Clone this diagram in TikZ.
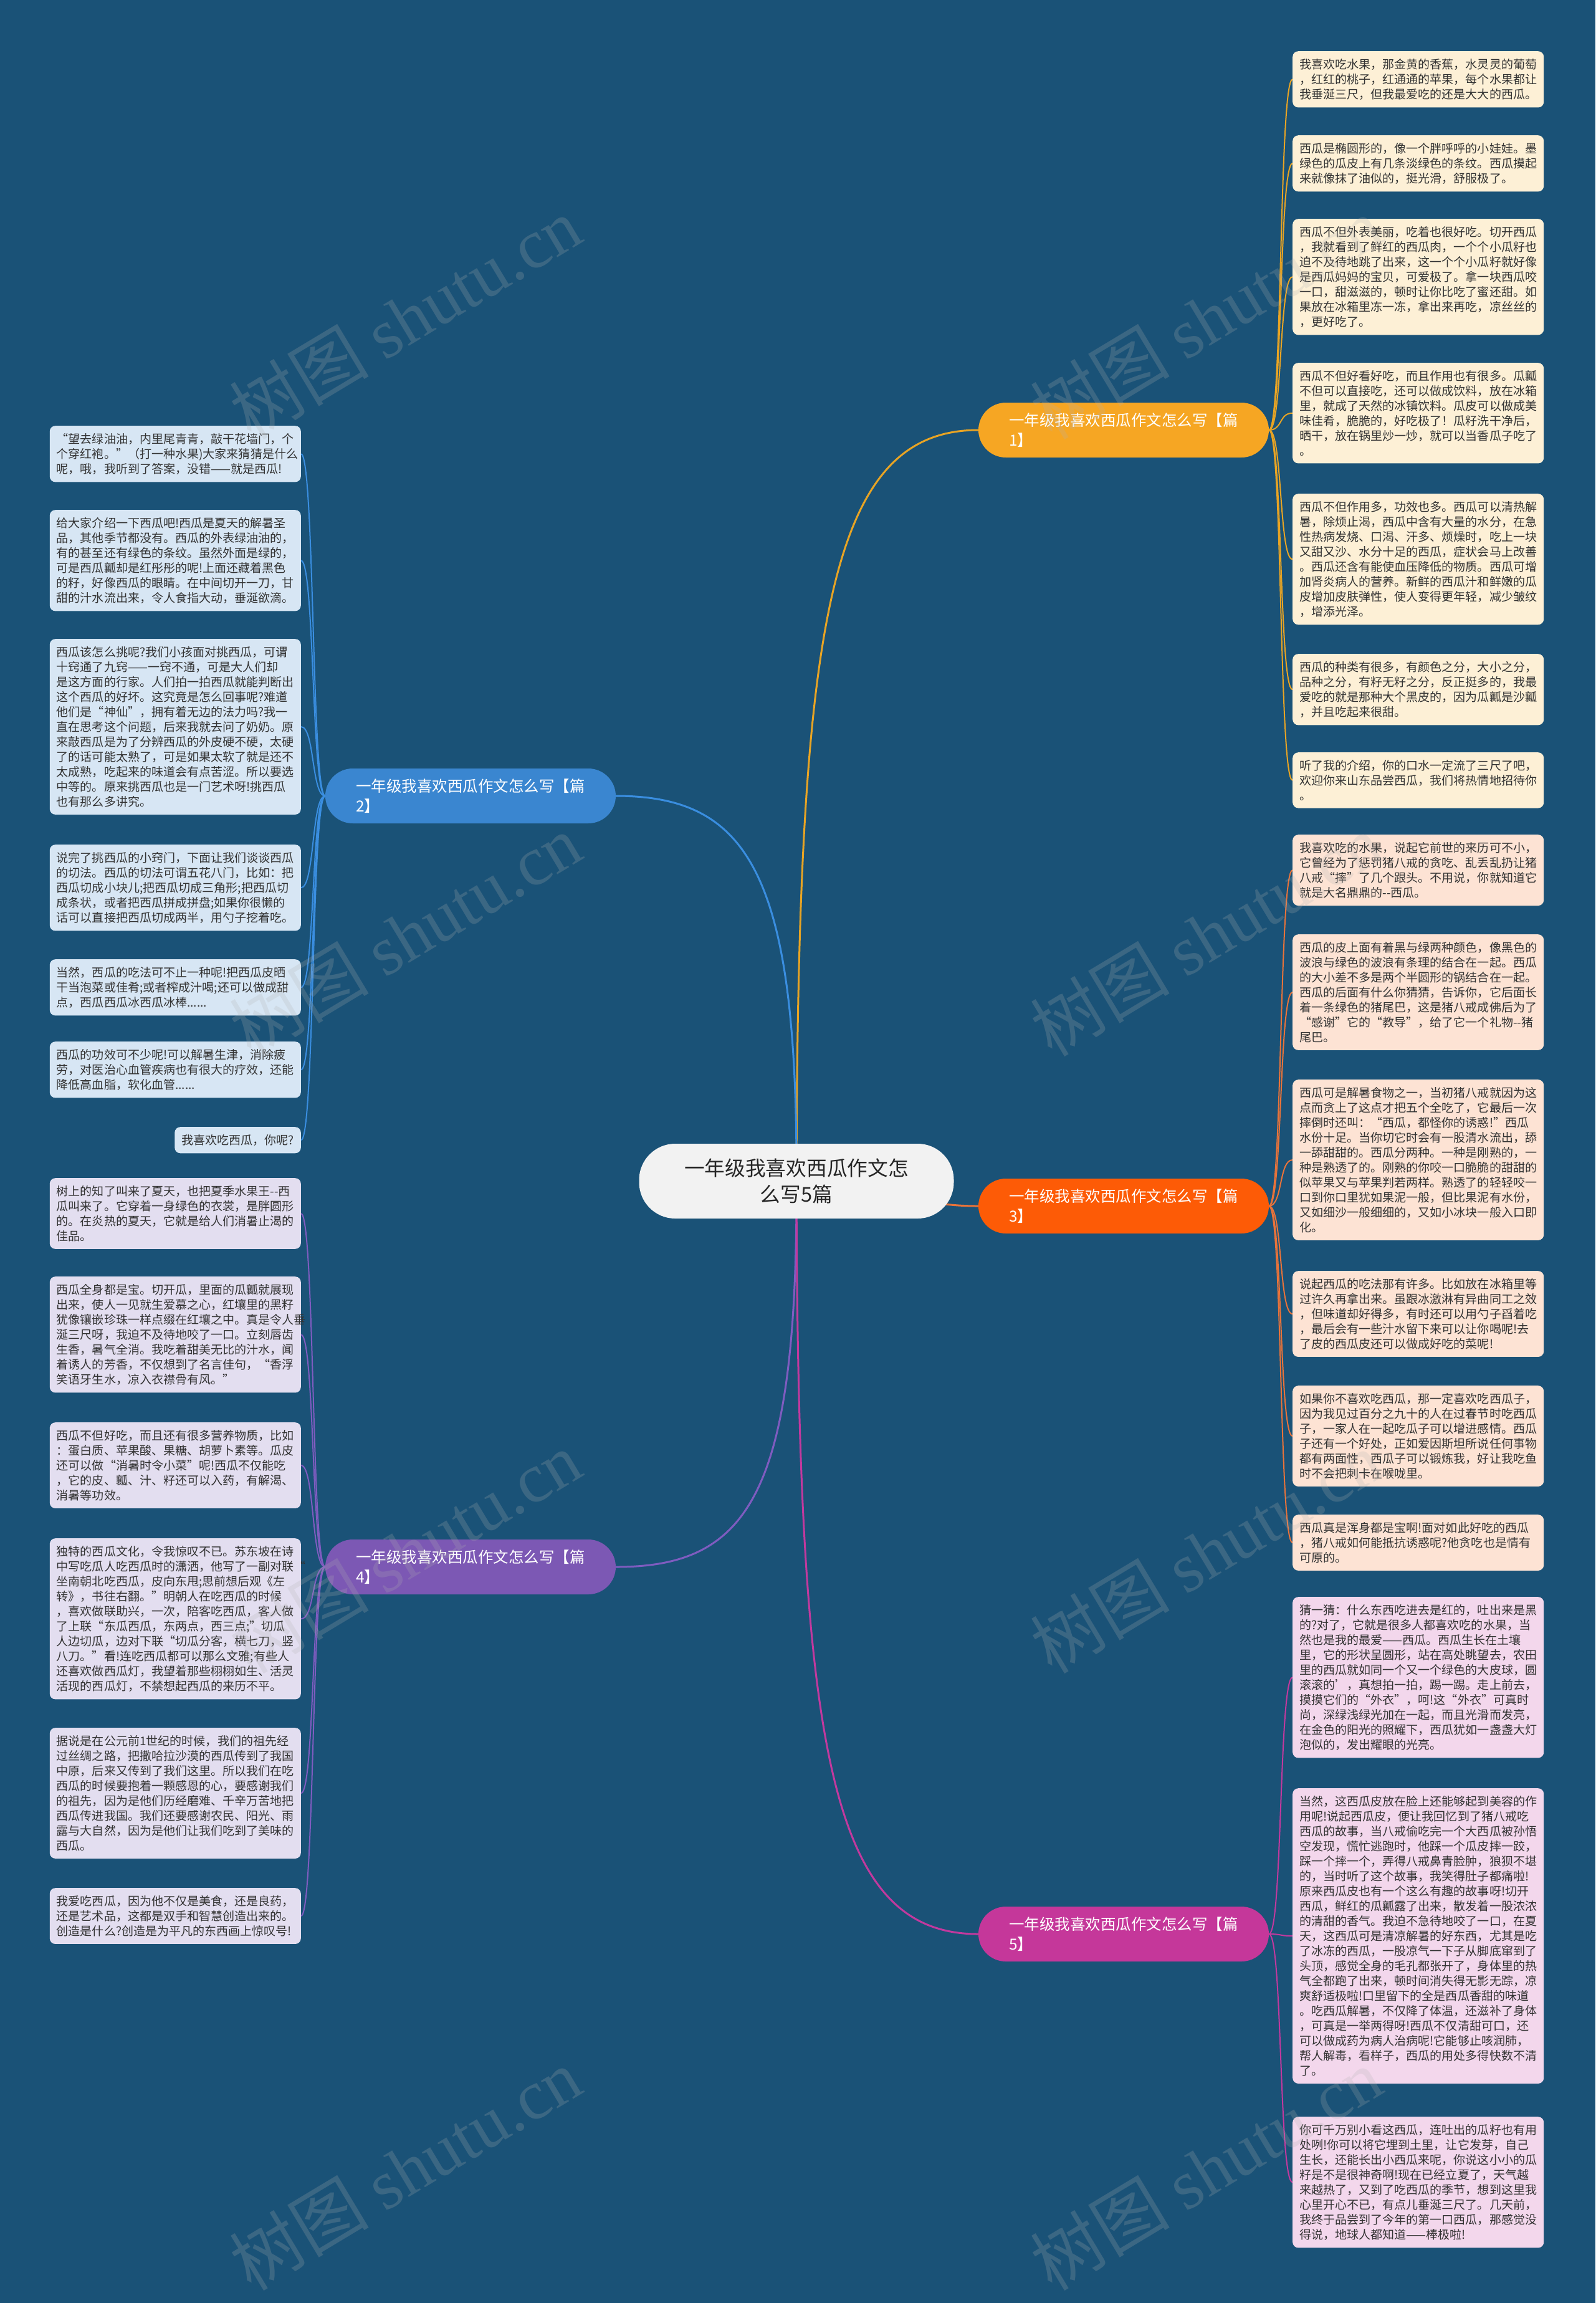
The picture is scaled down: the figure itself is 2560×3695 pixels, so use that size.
\documentclass[tikz,border=0pt]{standalone}
\usepackage{fontspec}
\setmainfont{Noto Sans CJK SC}
\newfontfamily\wmserif{Liberation Serif}
\usetikzlibrary{calc}
\definecolor{bgblue}{HTML}{1A5277}
\definecolor{leaftext}{HTML}{333333}
\definecolor{bAfill}{HTML}{F6A623}\definecolor{bAline}{HTML}{E8A424}\definecolor{bAleaf}{HTML}{FDF0D6}
\definecolor{bBfill}{HTML}{3A86D0}\definecolor{bBline}{HTML}{3A8EE0}\definecolor{bBleaf}{HTML}{D7E6F4}
\definecolor{bCfill}{HTML}{FD5B06}\definecolor{bCline}{HTML}{E8733A}\definecolor{bCleaf}{HTML}{FDE3D4}
\definecolor{bDfill}{HTML}{7C58B4}\definecolor{bDline}{HTML}{7F5CC0}\definecolor{bDleaf}{HTML}{E3DEF0}
\definecolor{bEfill}{HTML}{C5379A}\definecolor{bEline}{HTML}{C2399E}\definecolor{bEleaf}{HTML}{F3D7EC}
\definecolor{centerfill}{HTML}{F2F2F2}
\pgfdeclarelayer{bglayer}\pgfdeclarelayer{background}\pgfdeclarelayer{foreground}
\pgfsetlayers{bglayer,background,main,foreground}
\tikzset{
  leafbase/.style={rounded corners=9pt, inner xsep=11pt, inner ysep=12pt, text=leaftext,
    font=\fontsize{19.05}{24}\selectfont},
  leaf/.style={leafbase, text width=381pt, align=left},
  rleaf/.style={leaf, anchor=north west},
  lleaf/.style={leaf, anchor=north east},
  branchbox/.style={rounded corners=44pt, minimum width=466pt, minimum height=88pt, inner sep=0pt,
    text width=368pt, align=left, text=white, font=\fontsize{24.5}{32}\selectfont},
  centerbox/.style={rounded corners=58pt, minimum width=505pt, minimum height=120pt, fill=centerfill,
    align=center, text=black!85, font=\fontsize{32.7}{42}\selectfont},
  mainlink/.style={line width=3pt},
  leaflink/.style={line width=2pt},
  watermark/.style={rotate=31, opacity=0.22, text=gray!60, font=\fontsize{112}{112}\selectfont}
}
\begin{document}
\begin{tikzpicture}[x=1pt,y=-1pt]
\begin{pgfonlayer}{bglayer}
\fill[bgblue] (0,0) rectangle (2560,3695);
\end{pgfonlayer}
\useasboundingbox (0,0) rectangle (2560,3695);

% centre and branches
\node[centerbox] (c) at (1278,1895) {一年级我喜欢西瓜作文怎\\么写5篇};
\node[branchbox, fill=bAfill] (b1) at (1803,690) {一年级我喜欢西瓜作文怎么写【篇\\1】};
\node[branchbox, fill=bBfill] (b2) at (755,1277) {一年级我喜欢西瓜作文怎么写【篇\\2】};
\node[branchbox, fill=bCfill] (b3) at (1803,1935) {一年级我喜欢西瓜作文怎么写【篇\\3】};
\node[branchbox, fill=bDfill] (b4) at (755,2514) {一年级我喜欢西瓜作文怎么写【篇\\4】};
\node[branchbox, fill=bEfill] (b5) at (1803,3103) {一年级我喜欢西瓜作文怎么写【篇\\5】};

% branch 1 leaves
\node[rleaf, fill=bAleaf] (r1) at (2074,82) {我喜欢吃水果，那金黄的香蕉，水灵灵的葡萄\\，红红的桃子，红通通的苹果，每个水果都让\\我垂涎三尺，但我最爱吃的还是大大的西瓜。};
\node[rleaf, fill=bAleaf] (r2) at (2074,217) {西瓜是椭圆形的，像一个胖呼呼的小娃娃。墨\\绿色的瓜皮上有几条淡绿色的条纹。西瓜摸起\\来就像抹了油似的，挺光滑，舒服极了。};
\node[rleaf, fill=bAleaf] (r3) at (2074,351) {西瓜不但外表美丽，吃着也很好吃。切开西瓜\\，我就看到了鲜红的西瓜肉，一个个小瓜籽也\\迫不及待地跳了出来，这一个个小瓜籽就好像\\是西瓜妈妈的宝贝，可爱极了。拿一块西瓜咬\\一口，甜滋滋的，顿时让你比吃了蜜还甜。如\\果放在冰箱里冻一冻，拿出来再吃，凉丝丝的\\，更好吃了。};
\node[rleaf, fill=bAleaf] (r4) at (2074,582) {西瓜不但好看好吃，而且作用也有很多。瓜瓤\\不但可以直接吃，还可以做成饮料，放在冰箱\\里，就成了天然的冰镇饮料。瓜皮可以做成美\\味佳肴，脆脆的，好吃极了！瓜籽洗干净后，\\晒干，放在锅里炒一炒，就可以当香瓜子吃了\\。};
\node[rleaf, fill=bAleaf] (r5) at (2074,792) {西瓜不但作用多，功效也多。西瓜可以清热解\\暑，除烦止渴，西瓜中含有大量的水分，在急\\性热病发烧、口渴、汗多、烦燥时，吃上一块\\又甜又沙、水分十足的西瓜，症状会马上改善\\。西瓜还含有能使血压降低的物质。西瓜可增\\加肾炎病人的营养。新鲜的西瓜汁和鲜嫩的瓜\\皮增加皮肤弹性，使人变得更年轻，减少皱纹\\，增添光泽。};
\node[rleaf, fill=bAleaf] (r6) at (2074,1049) {西瓜的种类有很多，有颜色之分，大小之分，\\品种之分，有籽无籽之分，反正挺多的，我最\\爱吃的就是那种大个黑皮的，因为瓜瓤是沙瓤\\，并且吃起来很甜。};
\node[rleaf, fill=bAleaf] (r7) at (2074,1207) {听了我的介绍，你的口水一定流了三尺了吧，\\欢迎你来山东品尝西瓜，我们将热情地招待你\\。};

% branch 3 leaves
\node[rleaf, fill=bCleaf] (r8) at (2074,1339) {我喜欢吃的水果，说起它前世的来历可不小，\\它曾经为了惩罚猪八戒的贪吃、乱丢乱扔让猪\\八戒“摔”了几个跟头。不用说，你就知道它\\就是大名鼎鼎的-{}-西瓜。};
\node[rleaf, fill=bCleaf] (r9) at (2074,1499) {西瓜的皮上面有着黑与绿两种颜色，像黑色的\\波浪与绿色的波浪有条理的结合在一起。西瓜\\的大小差不多是两个半圆形的锅结合在一起。\\西瓜的后面有什么你猜猜，告诉你，它后面长\\着一条绿色的猪尾巴，这是猪八戒成佛后为了\\“感谢”它的“教导”，给了它一个礼物-{}-猪\\尾巴。};
\node[rleaf, fill=bCleaf] (r10) at (2074,1732) {西瓜可是解暑食物之一，当初猪八戒就因为这\\点而贪上了这点才把五个全吃了，它最后一次\\摔倒时还叫：“西瓜，都怪你的诱惑!”西瓜\\水份十足。当你切它时会有一股清水流出，舔\\一舔甜甜的。西瓜分两种。一种是刚熟的，一\\种是熟透了的。刚熟的你咬一口脆脆的甜甜的\\似苹果又与苹果判若两样。熟透了的轻轻咬一\\口到你口里犹如果泥一般，但比果泥有水份，\\又如细沙一般细细的，又如小冰块一般入口即\\化。};
\node[rleaf, fill=bCleaf] (r11) at (2074,2039) {说起西瓜的吃法那有许多。比如放在冰箱里等\\过许久再拿出来。虽跟冰激淋有异曲同工之效\\，但味道却好得多，有时还可以用勺子舀着吃\\，最后会有一些汁水留下来可以让你喝呢!去\\了皮的西瓜皮还可以做成好吃的菜呢!};
\node[rleaf, fill=bCleaf] (r12) at (2074,2223) {如果你不喜欢吃西瓜，那一定喜欢吃西瓜子，\\因为我见过百分之九十的人在过春节时吃西瓜\\子，一家人在一起吃瓜子可以增进感情。西瓜\\子还有一个好处，正如爱因斯坦所说任何事物\\都有两面性，西瓜子可以锻炼我，好让我吃鱼\\时不会把刺卡在喉咙里。};
\node[rleaf, fill=bCleaf] (r13) at (2074,2430) {西瓜真是浑身都是宝啊!面对如此好吃的西瓜\\，猪八戒如何能抵抗诱惑呢?他贪吃也是情有\\可原的。};

% branch 5 leaves
\node[rleaf, fill=bEleaf] (r14) at (2074,2562) {猜一猜：什么东西吃进去是红的，吐出来是黑\\的?对了，它就是很多人都喜欢吃的水果，当\\然也是我的最爱——西瓜。西瓜生长在土壤\\里，它的形状呈圆形，站在高处眺望去，农田\\里的西瓜就如同一个又一个绿色的大皮球，圆\\滚滚的'，真想拍一拍，踢一踢。走上前去，\\摸摸它们的“外衣”，呵!这“外衣”可真时\\尚，深绿浅绿光加在一起，而且光滑而发亮，\\在金色的阳光的照耀下，西瓜犹如一盏盏大灯\\泡似的，发出耀眼的光亮。};
\node[rleaf, fill=bEleaf] (r15) at (2074,2869) {当然，这西瓜皮放在脸上还能够起到美容的作\\用呢!说起西瓜皮，便让我回忆到了猪八戒吃\\西瓜的故事，当八戒偷吃完一个大西瓜被孙悟\\空发现，慌忙逃跑时，他踩一个瓜皮摔一跤，\\踩一个摔一个，弄得八戒鼻青脸肿，狼狈不堪\\的，当时听了这个故事，我笑得肚子都痛啦!\\原来西瓜皮也有一个这么有趣的故事呀!切开\\西瓜，鲜红的瓜瓤露了出来，散发着一股浓浓\\的清甜的香气。我迫不急待地咬了一口，在夏\\天，这西瓜可是清凉解暑的好东西，尤其是吃\\了冰冻的西瓜，一股凉气一下子从脚底窜到了\\头顶，感觉全身的毛孔都张开了，身体里的热\\气全都跑了出来，顿时间消失得无影无踪，凉\\爽舒适极啦!口里留下的全是西瓜香甜的味道\\。吃西瓜解暑，不仅降了体温，还滋补了身体\\，可真是一举两得呀!西瓜不仅清甜可口，还\\可以做成药为病人治病呢!它能够止咳润肺，\\帮人解毒，看样子，西瓜的用处多得快数不清\\了。};
\node[rleaf, fill=bEleaf] (r16) at (2074,3396) {你可千万别小看这西瓜，连吐出的瓜籽也有用\\处咧!你可以将它埋到土里，让它发芽，自己\\生长，还能长出小西瓜来呢，你说这小小的瓜\\籽是不是很神奇啊!现在已经立夏了，天气越\\来越热了，又到了吃西瓜的季节，想到这里我\\心里开心不已，有点儿垂涎三尺了。几天前，\\我终于品尝到了今年的第一口西瓜，那感觉没\\得说，地球人都知道——棒极啦!};

% branch 2 leaves
\node[lleaf, fill=bBleaf] (l1) at (483,683) {“望去绿油油，内里尾青青，敲干花墙门，个\\个穿红袍。”（打一种水果)大家来猜猜是什么\\呢，哦，我听到了答案，没错——就是西瓜!};
\node[lleaf, fill=bBleaf] (l2) at (483,818) {给大家介绍一下西瓜吧!西瓜是夏天的解暑圣\\品，其他季节都没有。西瓜的外表绿油油的，\\有的甚至还有绿色的条纹。虽然外面是绿的，\\可是西瓜瓤却是红彤彤的呢!上面还藏着黑色\\的籽，好像西瓜的眼睛。在中间切开一刀，甘\\甜的汁水流出来，令人食指大动，垂涎欲滴。};
\node[lleaf, fill=bBleaf] (l3) at (483,1025) {西瓜该怎么挑呢?我们小孩面对挑西瓜，可谓\\十窍通了九窍——一窍不通，可是大人们却\\是这方面的行家。人们拍一拍西瓜就能判断出\\这个西瓜的好坏。这究竟是怎么回事呢?难道\\他们是“神仙”，拥有着无边的法力吗?我一\\直在思考这个问题，后来我就去问了奶奶。原\\来敲西瓜是为了分辨西瓜的外皮硬不硬，太硬\\了的话可能太熟了，可是如果太软了就是还不\\太成熟，吃起来的味道会有点苦涩。所以要选\\中等的。原来挑西瓜也是一门艺术呀!挑西瓜\\也有那么多讲究。};
\node[lleaf, fill=bBleaf] (l4) at (483,1355) {说完了挑西瓜的小窍门，下面让我们谈谈西瓜\\的切法。西瓜的切法可谓五花八门，比如：把\\西瓜切成小块儿;把西瓜切成三角形;把西瓜切\\成条状，或者把西瓜拼成拼盘;如果你很懒的\\话可以直接把西瓜切成两半，用勺子挖着吃。};
\node[lleaf, fill=bBleaf] (l5) at (483,1539) {当然，西瓜的吃法可不止一种呢!把西瓜皮晒\\干当泡菜或佳肴;或者榨成汁喝;还可以做成甜\\点，西瓜西瓜冰西瓜冰棒......};
\node[lleaf, fill=bBleaf] (l6) at (483,1671) {西瓜的功效可不少呢!可以解暑生津，消除疲\\劳，对医治心血管疾病也有很大的疗效，还能\\降低高血脂，软化血管......};
\node[leafbase, anchor=north east, fill=bBleaf] (l7) at (483,1808) {我喜欢吃西瓜，你呢?};

% branch 4 leaves
\node[lleaf, fill=bDleaf] (l8) at (483,1890) {树上的知了叫来了夏天，也把夏季水果王-{}-西\\瓜叫来了。它穿着一身绿色的衣裳，是胖圆形\\的。在炎热的夏天，它就是给人们消暑止渴的\\佳品。};
\node[lleaf, fill=bDleaf] (l9) at (483,2048) {西瓜全身都是宝。切开瓜，里面的瓜瓤就展现\\出来，使人一见就生爱慕之心，红壤里的黑籽\\犹像镶嵌珍珠一样点缀在红壤之中。真是令人垂\\涎三尺呀，我迫不及待地咬了一口。立刻唇齿\\生香，暑气全消。我吃着甜美无比的汁水，闻\\着诱人的芳香，不仅想到了名言佳句，“香浮\\笑语牙生水，凉入衣襟骨有风。”};
\node[lleaf, fill=bDleaf] (l10) at (483,2282) {西瓜不但好吃，而且还有很多营养物质，比如\\：蛋白质、苹果酸、果糖、胡萝卜素等。瓜皮\\还可以做“消暑时令小菜”呢!西瓜不仅能吃\\，它的皮、瓤、汁、籽还可以入药，有解渴、\\消暑等功效。};
\node[lleaf, fill=bDleaf] (l11) at (483,2468) {独特的西瓜文化，令我惊叹不已。苏东坡在诗\\中写吃瓜人吃西瓜时的潇洒，他写了一副对联“\\坐南朝北吃西瓜，皮向东甩;思前想后观《左\\转》，书往右翻。”明朝人在吃西瓜的时候\\，喜欢做联助兴，一次，陪客吃西瓜，客人做\\了上联“东瓜西瓜，东两点，西三点;”切瓜\\人边切瓜，边对下联“切瓜分客，横七刀，竖\\八刀。”看!连吃西瓜都可以那么文雅;有些人\\还喜欢做西瓜灯，我望着那些栩栩如生、活灵\\活现的西瓜灯，不禁想起西瓜的来历不平。};
\node[lleaf, fill=bDleaf] (l12) at (483,2772) {据说是在公元前1世纪的时候，我们的祖先经\\过丝绸之路，把撒哈拉沙漠的西瓜传到了我国\\中原，后来又传到了我们这里。所以我们在吃\\西瓜的时候要抱着一颗感恩的心，要感谢我们\\的祖先，因为是他们历经磨难、千辛万苦地把\\西瓜传进我国。我们还要感谢农民、阳光、雨\\露与大自然，因为是他们让我们吃到了美味的\\西瓜。};
\node[lleaf, fill=bDleaf] (l13) at (483,3029) {我爱吃西瓜，因为他不仅是美食，还是良药，\\还是艺术品，这都是双手和智慧创造出来的。\\创造是什么?创造是为平凡的东西画上惊叹号!};

% connectors
\begin{pgfonlayer}{background}
\draw[mainlink, bAline] (c.center) .. controls (1280,1000) and (1330,690) .. (b1.west);
\draw[mainlink, bBline] (c.center) .. controls (1280,1400) and (1200,1277) .. (b2.east);
\draw[mainlink, bCline] (c.center) .. controls (1420,1895) and (1450,1935) .. (b3.west);
\draw[mainlink, bDline] (c.center) .. controls (1280,2400) and (1200,2514) .. (b4.east);
\draw[mainlink, bEline] (c.center) .. controls (1280,2800) and (1330,3103) .. (b5.west);
\foreach \n in {r1,r2,r3,r4,r5,r6,r7}
  \draw[leaflink, bAline] (b1.east) .. controls +(22,0) and +(-22,0) .. (\n.west);
\foreach \n in {r8,r9,r10,r11,r12,r13}
  \draw[leaflink, bCline] (b3.east) .. controls +(22,0) and +(-22,0) .. (\n.west);
\foreach \n in {r14,r15,r16}
  \draw[leaflink, bEline] (b5.east) .. controls +(22,0) and +(-22,0) .. (\n.west);
\foreach \n in {l1,l2,l3,l4,l5,l6,l7}
  \draw[leaflink, bBline] (b2.west) .. controls +(-22,0) and +(22,0) .. (\n.east);
\foreach \n in {l8,l9,l10,l11,l12,l13}
  \draw[leaflink, bDline] (b4.west) .. controls +(-22,0) and +(22,0) .. (\n.east);
\end{pgfonlayer}

% watermarks
\begin{pgfonlayer}{foreground}
\foreach \wx in {650,1935}
  \foreach \wy in {510,1500,2490,3480}
    \node[watermark] at (\wx,\wy) {树图 {\wmserif shutu.cn}};
\end{pgfonlayer}
\end{tikzpicture}
\end{document}
